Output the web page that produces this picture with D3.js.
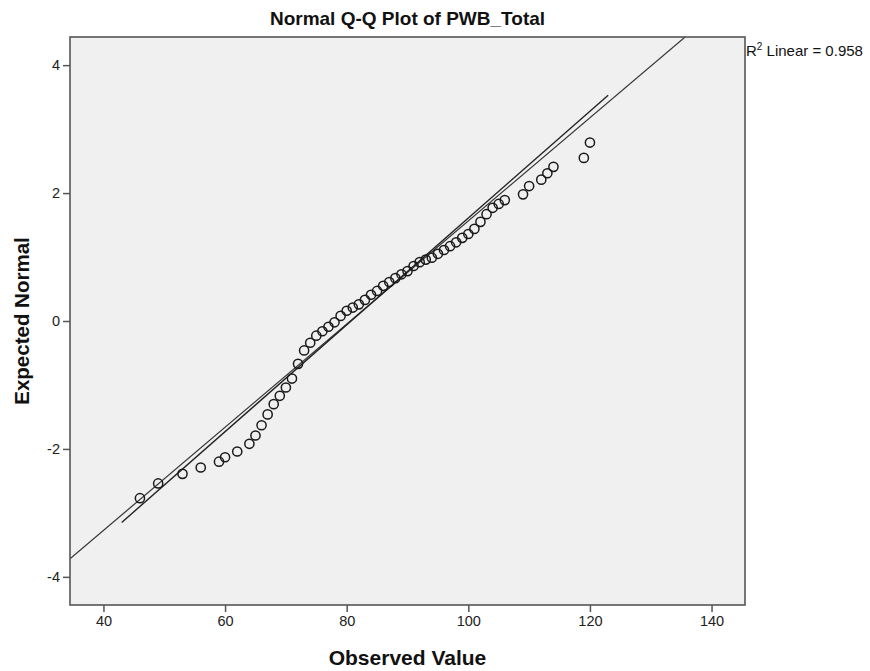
<!DOCTYPE html>
<html>
<head>
<meta charset="utf-8">
<script src="https://cdn.jsdelivr.net/npm/d3@7"></script>
<style>
  body { margin: 0; background: #fff; }
  text { font-family: Arial, "Liberation Sans", sans-serif; }
</style>
</head>
<body>
<div class="qq_view"></div>
<script>
// observed values (distinct) and their expected normal scores
var observed = [46, 49, 53, 56, 59, 60, 62, 64, 65, 66, 67, 68, 69, 70, 71, 72, 73, 74, 75, 76,
  77, 78, 79, 80, 81, 82, 83, 84, 85, 86, 87, 88, 89, 90, 91, 92, 93, 94, 95, 96, 97, 98, 99,
  100, 101, 102, 103, 104, 105, 106, 109, 110, 112, 113, 114, 119, 120];
var expected = [-2.77, -2.54, -2.39, -2.29, -2.20, -2.13, -2.04, -1.92, -1.79, -1.63, -1.46,
  -1.30, -1.17, -1.04, -0.90, -0.67, -0.46, -0.34, -0.23, -0.16, -0.09, -0.02, 0.08, 0.16,
  0.21, 0.26, 0.33, 0.41, 0.47, 0.55, 0.61, 0.67, 0.73, 0.78, 0.86, 0.92, 0.96, 0.99, 1.05,
  1.11, 1.17, 1.23, 1.30, 1.36, 1.44, 1.55, 1.67, 1.77, 1.83, 1.89, 1.98, 2.11, 2.21, 2.31,
  2.41, 2.55, 2.79];
var xTicks = [40, 60, 80, 100, 120, 140];
var yTicks = [-4, -2, 0, 2, 4];
// normal reference line: (x - mean) / sd
var refMean = 80.6, refSd = 12.4;
// linear fit line
var fitIntercept = -6.74, fitSlope = 0.0835, fitRange = [43, 123];
var r2Text = "0.958";

var width = 870, height = 671;
var margin = { top: 37, right: 125, bottom: 66, left: 70 };

var svg = d3.select(".qq_view")
  .append("svg")
  .attr("width", width)
  .attr("height", height);

var x = d3.scaleLinear().domain([34.5, 145.5]).range([margin.left, width - margin.right]);
var y = d3.scaleLinear().domain([-4.44, 4.44]).range([height - margin.bottom, margin.top]);

svg.append("defs").append("clipPath").attr("id", "plotclip")
  .append("rect")
  .attr("x", margin.left).attr("y", margin.top)
  .attr("width", x.range()[1] - x.range()[0])
  .attr("height", y.range()[0] - y.range()[1]);

svg.append("rect")
  .attr("x", margin.left).attr("y", margin.top)
  .attr("width", x.range()[1] - x.range()[0])
  .attr("height", y.range()[0] - y.range()[1])
  .style("fill", "#f0f0f0");

var plot = svg.append("g").attr("clip-path", "url(#plotclip)");

var line = d3.line()
  .x(function (d) { return x(d[0]); })
  .y(function (d) { return y(d[1]); });

var xd = x.domain();
plot.append("path")
  .attr("d", line([[xd[0], (xd[0] - refMean) / refSd], [xd[1], (xd[1] - refMean) / refSd]]))
  .style("stroke", "#333")
  .style("stroke-width", "1.2px")
  .style("fill", "none");

plot.append("path")
  .attr("d", line(fitRange.map(function (v) { return [v, fitIntercept + fitSlope * v]; })))
  .style("stroke", "#222")
  .style("stroke-width", "1.4px")
  .style("fill", "none");

plot.selectAll(".pt")
  .data(observed)
  .enter()
  .append("circle")
  .attr("class", "pt")
  .attr("cx", function (d) { return x(d); })
  .attr("cy", function (d, i) { return y(expected[i]); })
  .attr("r", 4.6)
  .style("fill", "none")
  .style("stroke", "#1a1a1a")
  .style("stroke-width", "1.5px");

// frame
svg.append("rect")
  .attr("x", margin.left).attr("y", margin.top)
  .attr("width", x.range()[1] - x.range()[0])
  .attr("height", y.range()[0] - y.range()[1])
  .style("fill", "none")
  .style("stroke", "#555")
  .style("stroke-width", "1.6px");

var xAxis = svg.append("g")
  .attr("transform", "translate(0," + y.range()[0] + ")")
  .call(d3.axisBottom(x).tickValues(xTicks).tickSize(7).tickPadding(4));
var yAxis = svg.append("g")
  .attr("transform", "translate(" + margin.left + ",0)")
  .call(d3.axisLeft(y).tickValues(yTicks).tickSize(7).tickPadding(3)
    .tickFormat(function (d) { return d < 0 ? "-" + Math.abs(d) : d; }));
[xAxis, yAxis].forEach(function (a) {
  a.select(".domain").remove();
  a.selectAll(".tick line").style("stroke", "#555").style("stroke-width", "1.5px");
  a.selectAll(".tick text")
    .style("font-family", "'Liberation Sans Narrow', 'Arial Narrow', Arial, sans-serif")
    .style("font-size", "14.5px")
    .style("fill", "#222");
});

svg.append("text")
  .attr("x", (x.range()[0] + x.range()[1]) / 2)
  .attr("y", 25)
  .attr("text-anchor", "middle")
  .style("font-size", "19px")
  .style("font-weight", "bold")
  .style("fill", "#111")
  .text("Normal Q-Q Plot of PWB_Total");

svg.append("text")
  .attr("x", (x.range()[0] + x.range()[1]) / 2)
  .attr("y", 665)
  .attr("text-anchor", "middle")
  .style("font-size", "21px")
  .style("font-weight", "bold")
  .style("fill", "#111")
  .text("Observed Value");

svg.append("text")
  .attr("transform", "translate(29," + (y.range()[0] + y.range()[1]) / 2 + ") rotate(-90)")
  .attr("text-anchor", "middle")
  .style("font-size", "20.5px")
  .style("font-weight", "bold")
  .style("fill", "#111")
  .text("Expected Normal");

var r2 = svg.append("text")
  .attr("x", x.range()[1] + 1)
  .attr("y", 56)
  .style("font-size", "15px")
  .style("fill", "#111");
r2.append("tspan").text("R");
r2.append("tspan").attr("dy", -6).style("font-size", "10px").text("2");
r2.append("tspan").attr("dy", 6).text(" Linear = " + r2Text);
</script>
</body>
</html>
